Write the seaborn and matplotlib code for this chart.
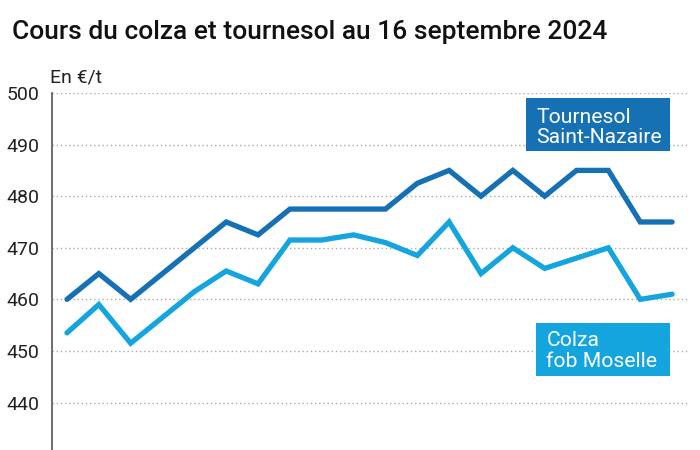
import matplotlib
matplotlib.use("Agg")
import matplotlib.pyplot as plt
from matplotlib.patches import Rectangle
import seaborn as sns
import pandas as pd

# Data
points = list(range(20))
tournesol = [460, 465, 460, 465, 470, 475, 472.5, 477.5, 477.5, 477.5,
             477.5, 482.5, 485, 480, 485, 480, 485, 485, 475, 475]
colza = [453.5, 459, 451.5, 456.5, 461.5, 465.5, 463, 471.5, 471.5, 472.5,
         471, 468.5, 475, 465, 470, 466, 468, 470, 460, 461]
tournesol_label = ["Tournesol", "Saint-Nazaire"]
colza_label = ["Colza", "fob Moselle"]
yticks = [440, 450, 460, 470, 480, 490, 500]

dark_blue = "#1670b4"
light_blue = "#14a5df"

df = pd.DataFrame({
    "x": points * 2,
    "value": tournesol + colza,
    "serie": ["Tournesol"] * len(points) + ["Colza"] * len(points),
})

sns.set_theme(style="white")
plt.rcParams["font.family"] = ["Roboto", "DejaVu Sans"]

W, H = 700, 450
fig = plt.figure(figsize=(7, 4.5), dpi=100)
ax = fig.add_axes([52 / W, 0.0, (688 - 52) / W, 1 - 93 / H])

sns.lineplot(data=df, x="x", y="value", hue="serie",
             palette={"Tournesol": dark_blue, "Colza": light_blue},
             linewidth=3.8, legend=False, ax=ax)
for line in ax.lines:
    line.set_solid_joinstyle("miter")
    line.set_solid_capstyle("round")

ax.set_xlim(-0.47, 19.5)
ax.set_ylim(430.8, 500)
ax.set_yticks(yticks)
ax.set_yticklabels([str(t) for t in yticks], fontsize=14, color="#222222")
ax.set_xticks([])
ax.set_xlabel("")
ax.set_ylabel("")
ax.tick_params(axis="y", length=0, pad=9)

for t in yticks:
    ax.axhline(t, color="#aaaaaa", linestyle=(0, (1, 2)), linewidth=1.0, zorder=0)

for s in ["top", "right", "bottom"]:
    ax.spines[s].set_visible(False)
ax.spines["left"].set_color("#555555")
ax.spines["left"].set_linewidth(1.2)


def fx(px):
    return px / W


def fy(py):
    return 1 - py / H


fig.text(fx(50), fy(82), "En €/t", fontsize=14, color="#222222", ha="left", va="baseline")


def label_box(x0, x1, y0, y1, color, lines, tx, baselines):
    fig.patches.append(Rectangle((fx(x0), fy(y1)), fx(x1) - fx(x0), fy(y0) - fy(y1),
                                 transform=fig.transFigure, fc=color, ec="none", zorder=5))
    for txt, b in zip(lines, baselines):
        fig.text(fx(tx), fy(b), txt, fontsize=15.2, color="white", ha="left",
                 va="baseline", zorder=6)


label_box(526, 670, 98, 151, dark_blue, tournesol_label, 536, [122.7, 142.7])
label_box(536, 670, 323, 376, light_blue, colza_label, 546.5, [346, 367])

fig.text(fx(12), fy(39), "Cours du colza et tournesol au 16 septembre 2024",
         fontsize=19, fontweight="medium", color="#111111", ha="left", va="baseline")

fig.savefig("out.png", dpi=100)
